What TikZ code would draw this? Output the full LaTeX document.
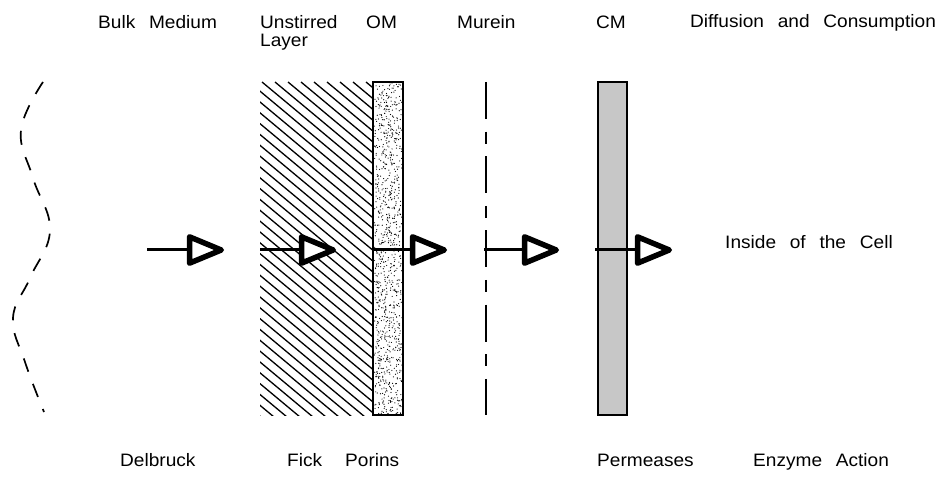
\documentclass[tikz,border=0pt]{standalone}
\usepackage{fontspec}
\setmainfont{Liberation Sans}[FakeStretch=1.06,WordSpace=2.6]
\usetikzlibrary{arrows.meta}
\begin{document}
\begin{tikzpicture}[x=1pt,y=-1pt,
  lab/.style={anchor=base west, inner sep=0pt, font=\fontsize{18}{21}\selectfont},
  flow/.style={line width=3pt, -{Triangle[length=42pt,width=33pt,line width=5.5pt,fill=white,round]}},
  hatch/.style={line width=1.3pt},
  wavy/.style={line width=1.7pt, dash pattern=on 14pt off 13pt},
  murein/.style={line width=1.6pt, dash pattern=on 37pt off 12.6pt on 12pt off 12.6pt},
  membrane/.style={line width=1.6pt}]
\useasboundingbox (0,0) rectangle (948,478);
% bulk medium boundary
\draw[wavy] plot[smooth, tension=0.7] coordinates {(43,82) (21,130) (33,178) (50,230) (30,278) (13,318) (25,362) (44,412)};
% unstirred layer hatching
\begin{scope}
  \clip (260,82) rectangle (373,415);
  \foreach \i in {-34,...,10} \draw[hatch] ({262+\i*13},82) -- ++(420,350);
\end{scope}
% OM stipple
\pgfmathsetseed{7}
\foreach \k in {1,...,950} {
  \pgfmathsetmacro\dx{374.5+27.5*rnd}
  \pgfmathsetmacro\dy{83+331*rnd}
  \fill (\dx,\dy) circle (0.6);
}
\draw[membrane, line width=1.8pt] (373,82) rectangle (403,415);
% murein
\draw[murein] (486,82) -- (486,415);
% CM
\filldraw[membrane, fill=black!22] (598,82) rectangle (627,415);
% arrows
\coordinate (a1s) at (147,250); \coordinate (a1e) at (224,250);
\coordinate (a2s) at (260,250); \coordinate (a2e) at (336,250);
\coordinate (a3s) at (372,250); \coordinate (a3e) at (447,250);
\coordinate (a4s) at (484,250); \coordinate (a4e) at (559,250);
\coordinate (a5s) at (595,250); \coordinate (a5e) at (672,250);
\foreach \n in {1,...,5} \draw[flow] (a\n s) -- (a\n e);
% labels
\node[lab] (tbulk) at (98,29) {Bulk Medium};
\node[lab] (tunst) at (260,29) {Unstirred};
\node[lab] (tlay) at (260,47) {Layer};
\node[lab] (tom) at (366,29) {OM};
\node[lab] (tmur) at (457,29) {Murein};
\node[lab] (tcm) at (596,29) {CM};
\node[lab] (tdiff) at (690,28) {Diffusion and Consumption};
\node[lab] (tin) at (725,249) {Inside of the Cell};
\node[lab] (tdel) at (120,466) {Delbruck};
\node[lab] (tfick) at (287,466) {Fick};
\node[lab] (tpor) at (345,466) {Porins};
\node[lab] (tperm) at (597,466) {Permeases};
\node[lab] (tenz) at (753,466) {Enzyme Action};
\end{tikzpicture}
\end{document}
